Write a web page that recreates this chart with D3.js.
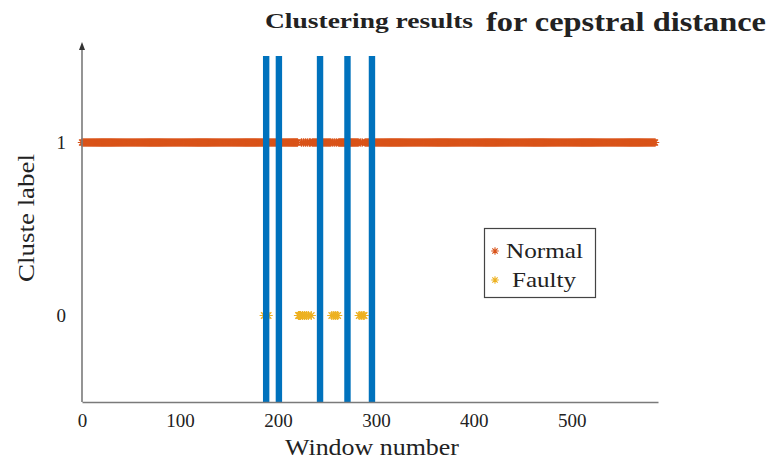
<!DOCTYPE html>
<html><head><meta charset="utf-8">
<script src="https://cdn.jsdelivr.net/npm/d3@7"></script>
<style>
body{margin:0;background:#fff;} svg{display:block;}
svg text{font-family:"Liberation Serif","Times New Roman",Times,serif;}
</style>
</head><body>
<svg id="c" width="770" height="460"></svg>
<script>
// ---- data ----
const windowCount = 586;               // windows 0..585
const faultyWindows = [186,188,190, 221,222,223,225,227,229,231,234, 255,257,259,261, 283,285,287,288];
const detectedFaults = [188, 201, 243, 271, 296];
const xTicks = [0,100,200,300,400,500];
const yTicks = [0,1];
const legendLabels = ["Normal","Faulty"];

const faultySet = new Set(faultyWindows);
const normalWindows = d3.range(windowCount).filter(w => !faultySet.has(w));

const svg = d3.select("#c");
const x = d3.scaleLinear().domain([0, 588]).range([82, 658]);
const y = d3.scaleLinear().domain([-0.5, 1.5]).range([402, 56]);
const cNormal = "#D95319", cFaulty = "#EDB120", cBar = "#0072BD", cAxis = "#7a7a7a";

function star(r){
  const d = 0.7071*r;
  return `M${-r},0H${r}M0,${-r}V${r}M${-d},${-d}L${d},${d}M${-d},${d}L${d},${-d}`;
}

// normal
svg.append("g").selectAll("path").data(normalWindows).join("path")
  .attr("transform", d => `translate(${x(d)},${y(1)})`)
  .attr("d", star(4.2)).attr("stroke", cNormal).attr("stroke-width", 1.2).attr("fill","none");
// faulty
svg.append("g").selectAll("path").data(faultyWindows).join("path")
  .attr("transform", d => `translate(${x(d)},${y(0)})`)
  .attr("d", star(4.6)).attr("stroke", cFaulty).attr("stroke-width", 1.2).attr("fill","none");

// bars
svg.append("g").selectAll("rect").data(detectedFaults).join("rect")
  .attr("x", d => x(d) - 3.2).attr("width", 6.4)
  .attr("y", y(1.5)).attr("height", y(-0.5) - y(1.5))
  .attr("fill", cBar);

// axes
const xa = svg.append("g").attr("transform", `translate(0,${y(-0.5)})`)
  .call(d3.axisBottom(x).tickValues(xTicks).tickSize(0).tickPadding(12).tickFormat(d3.format("d")));
xa.attr("font-family", null);
xa.select(".domain").attr("stroke", cAxis).attr("stroke-width", 1.6);
xa.selectAll("text").attr("font-size", 19).attr("fill","#222");

const ya = svg.append("g").attr("transform", `translate(${x(0)},0)`)
  .call(d3.axisLeft(y).tickValues(yTicks).tickSize(0).tickPadding(16).tickFormat(d3.format("d")));
ya.attr("font-family", null);
ya.select(".domain").remove();
ya.selectAll("text").attr("font-size", 19).attr("fill","#222");
svg.append("line").attr("x1", x(0)).attr("x2", x(0)).attr("y1", y(-0.5)).attr("y2", 46)
  .attr("stroke", cAxis).attr("stroke-width", 1.6);
svg.append("path").attr("d", `M${x(0)-3},${50}L${x(0)},${42}L${x(0)+3},${50}Z`).attr("fill","#333");

// axis labels
svg.append("text").attr("x", 372).attr("y", 455).attr("text-anchor","middle")
  .attr("font-size", 24).attr("fill","#222")
  .attr("textLength", 174).attr("lengthAdjust","spacingAndGlyphs").text("Window number");
svg.append("text").attr("transform","translate(34,218) rotate(-90)").attr("text-anchor","middle")
  .attr("font-size", 23).attr("fill","#222")
  .attr("textLength", 128).attr("lengthAdjust","spacingAndGlyphs").text("Cluste label");

// title
svg.append("text").attr("x", 265).attr("y", 28).attr("font-weight","bold")
  .attr("font-size", 21).attr("fill","#222").attr("textLength", 208).attr("lengthAdjust","spacingAndGlyphs")
  .text("Clustering results");
svg.append("text").attr("x", 486).attr("y", 31).attr("font-weight","bold")
  .attr("font-size", 28).attr("fill","#222").attr("textLength", 280).attr("lengthAdjust","spacingAndGlyphs")
  .text("for cepstral distance");

// legend
const lg = svg.append("g");
lg.append("rect").attr("x", 484.5).attr("y", 228.5).attr("width", 111).attr("height", 69)
  .attr("fill","#fff").attr("stroke","#444").attr("stroke-width", 1.2);
const legColors = [cNormal, cFaulty];
const legY = [251, 280];
const legTextX = [506, 512];
const legW = [77, 64];
legendLabels.forEach((t, i) => {
  lg.append("path").attr("transform", `translate(495,${legY[i]})`).attr("d", star(3.8))
    .attr("stroke", legColors[i]).attr("stroke-width", 1.1).attr("fill","none");
  lg.append("text").attr("x", legTextX[i]).attr("y", legY[i] + 7)
    .attr("font-size", 22).attr("fill","#222").attr("textLength", legW[i]).attr("lengthAdjust","spacingAndGlyphs").text(t);
});
</script>
</body></html>
